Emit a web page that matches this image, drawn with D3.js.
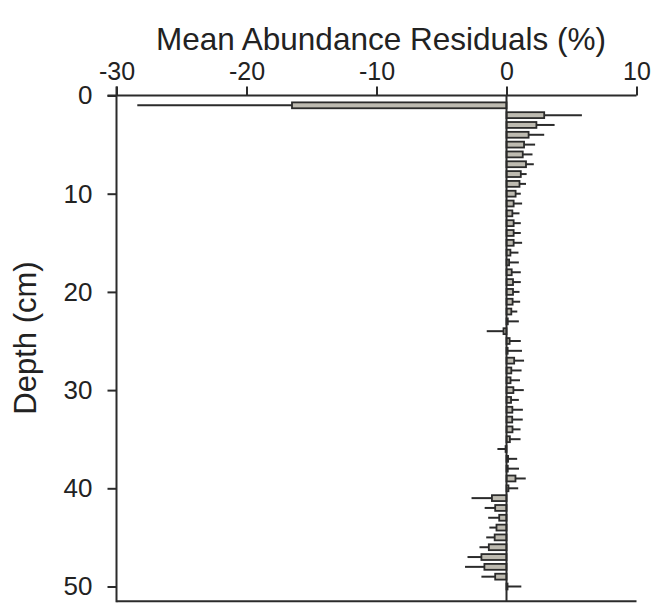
<!DOCTYPE html>
<html>
<head>
<meta charset="utf-8">
<script src="https://cdn.jsdelivr.net/npm/d3@7"></script>
<style>
  html, body { margin: 0; padding: 0; background: #ffffff; }
  svg { display: block; }
  text { font-family: "Liberation Sans", Arial, Helvetica, sans-serif; fill: #222; }
</style>
</head>
<body>
<svg id="chart" width="654" height="604"></svg>
<script>
// Depth of each sample interval (cm)
const depths = [1,2,3,4,5,6,7,8,9,10,11,12,13,14,15,16,17,18,19,20,
                21,22,23,24,25,26,27,28,29,30,31,32,33,34,35,36,37,38,39,40,
                41,42,43,44,45,46,47,48,49,50];
// Mean abundance residual per depth (%)
const residuals = [-16.5,2.9,2.3,1.7,1.35,1.25,1.5,1.1,1.0,0.7,
                   0.55,0.45,0.55,0.55,0.55,0.3,0.2,0.4,0.5,0.5,
                   0.47,0.37,0.1,-0.23,0.24,0.09,0.59,0.37,0.31,0.53,
                   0.35,0.45,0.44,0.46,0.26,-0.07,0.12,0.1,0.69,0.15,
                   -1.12,-0.87,-0.56,-0.77,-0.91,-1.36,-1.93,-1.7,-0.87,0.08];
// Error (one-sided, drawn away from zero)
const errors = [11.9,2.9,1.4,1.2,0.85,0.75,0.6,0.45,0.5,0.4,
                0.65,0.55,0.55,0.55,0.65,0.62,0.75,0.7,0.6,0.5,
                0.58,0.46,0.85,1.29,0.86,1.1,0.76,0.79,0.73,0.8,
                0.6,0.81,0.81,0.62,0.82,0.63,0.7,0.86,0.79,0.75,
                1.57,0.81,0.85,0.55,0.65,0.72,1.07,1.49,1.06,1.06];
const xTicks = [-30, -20, -10, 0, 10];
const yTicks = [0, 10, 20, 30, 40, 50];

const rows = depths.map((d, i) => ({ depth: d, value: residuals[i], err: errors[i] }));

const ink = "#2b2b2b";
const barFill = "#bebbb1";

const svg = d3.select("#chart");

const x = d3.scaleLinear().domain([-30, 10]).range([116.5, 636.5]);
const y = d3.scaleLinear().domain([0, 50]).range([95.5, 586.5]);
const yBottom = y(51.5);
const barH = y(0.6) - y(0);

// Plot frame: bottom edge
svg.append("line")
  .attr("x1", x(-30)).attr("x2", x(10))
  .attr("y1", yBottom).attr("y2", yBottom)
  .attr("stroke", ink).attr("stroke-width", 2);

// Error whiskers
svg.append("g").selectAll("line")
  .data(rows)
  .join("line")
  .attr("x1", d => x(d.value))
  .attr("x2", d => x(d.value + Math.sign(d.value) * d.err))
  .attr("y1", d => y(d.depth))
  .attr("y2", d => y(d.depth))
  .attr("stroke", ink)
  .attr("stroke-width", 2);

// Bars
svg.append("g").selectAll("rect")
  .data(rows)
  .join("rect")
  .attr("x", d => x(Math.min(0, d.value)))
  .attr("width", d => Math.abs(x(d.value) - x(0)))
  .attr("y", d => y(d.depth) - barH / 2)
  .attr("height", barH)
  .attr("fill", barFill)
  .attr("stroke", ink)
  .attr("stroke-width", 1.8);

// Zero reference line
svg.append("line")
  .attr("x1", x(0)).attr("x2", x(0))
  .attr("y1", y(0)).attr("y2", yBottom)
  .attr("stroke", ink).attr("stroke-width", 2);

// Top axis (plain hyphen for negative labels)
const xAxis = d3.axisTop(x).tickValues(xTicks).tickFormat(d => String(d))
  .tickSize(9).tickPadding(7).tickSizeOuter(0);
const gx = svg.append("g").attr("transform", `translate(0,${y(0)})`).call(xAxis);
gx.select(".domain").remove();
gx.selectAll(".tick line").attr("stroke", ink).attr("stroke-width", 2);
gx.selectAll(".tick text").attr("font-size", 25).attr("fill", "#222");
gx.append("line")
  .attr("x1", x(-30) - 9).attr("x2", x(10))
  .attr("y1", 0).attr("y2", 0)
  .attr("stroke", ink).attr("stroke-width", 2);

// Left axis
const yAxis = d3.axisLeft(y).tickValues(yTicks).tickFormat(d => String(d))
  .tickSize(9).tickPadding(15).tickSizeOuter(0);
const gy = svg.append("g").attr("transform", `translate(${x(-30)},0)`).call(yAxis);
gy.select(".domain").remove();
gy.selectAll(".tick line").attr("stroke", ink).attr("stroke-width", 2);
gy.selectAll(".tick text").attr("font-size", 26).attr("fill", "#222");
gy.append("line")
  .attr("x1", 0).attr("x2", 0)
  .attr("y1", y(0) - 9).attr("y2", yBottom + 1)
  .attr("stroke", ink).attr("stroke-width", 2);

// Axis titles
svg.append("text")
  .attr("x", 381).attr("y", 50)
  .attr("text-anchor", "middle")
  .attr("font-size", 31.5)
  .text("Mean Abundance Residuals (%)");

svg.append("text")
  .attr("transform", "translate(36,338) rotate(-90)")
  .attr("text-anchor", "middle")
  .attr("font-size", 31)
  .text("Depth (cm)");
</script>
</body>
</html>
